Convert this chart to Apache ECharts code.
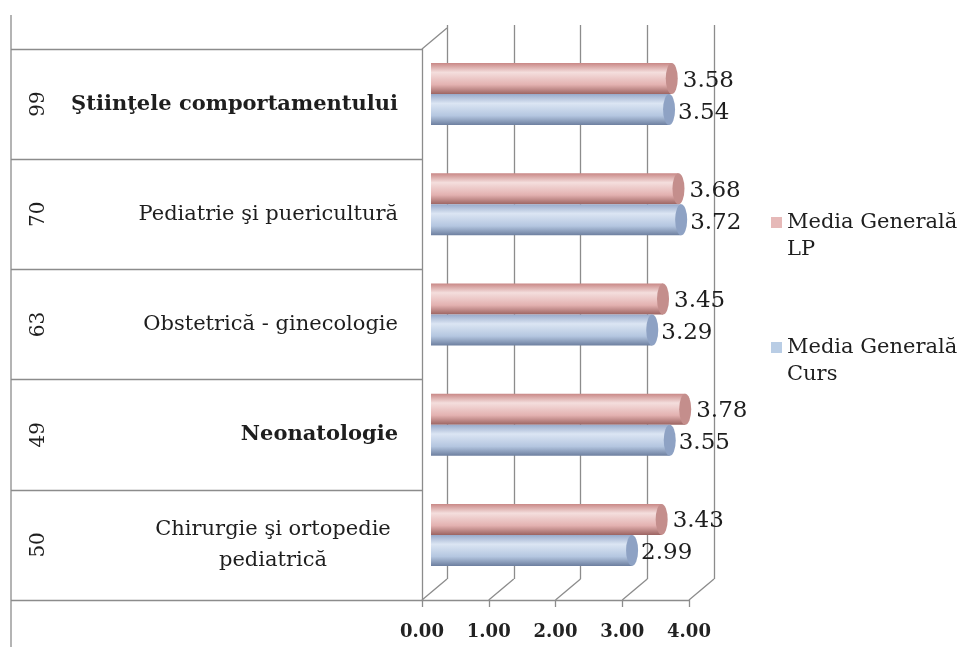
<!DOCTYPE html>
<html>
<head>
<meta charset="utf-8">
<script src="https://cdn.jsdelivr.net/npm/echarts@6/dist/echarts.min.js"></script>
<style>html,body{margin:0;background:#fff}#chart{width:978px;height:647px}</style>
</head>
<body>
<div id="chart"></div>
<script>
// date
var categories = ['Ştiinţele comportamentului', 'Pediatrie şi puericultură', 'Obstetrică - ginecologie', 'Neonatologie', 'Chirurgie şi ortopedie\npediatrică'];
var respondents = ['99', '70', '63', '49', '50'];
var boldRows = [true, false, false, true, false];
var mediaLP = [3.58, 3.68, 3.45, 3.78, 3.43];
var mediaCurs = [3.54, 3.72, 3.29, 3.55, 2.99];
var xMin = 0, xMax = 4, xStep = 1;

var serif = 'DejaVu Serif';
var lineCol = '#8c8c8c';

// pozitii grid (fata / spate, efect 3D)
var frontLeft = 422, frontRight = 689, frontTop = 49, frontBottom = 600;
var dx = 25, dy = -21;

var chart = echarts.init(document.getElementById('chart'));

function catLabel(v, i) {
  if (boldRows[i]) return '{b|' + v + '}';
  if (v.indexOf('\n') >= 0) {
    return v.split('\n').map(function (s) { return '{c|' + s + '}'; }).join('\n');
  }
  return '{n|' + v + '}';
}

// linii decorative pentru cutia 3D
var deco = [
  { type: 'line', shape: { x1: 11, y1: 15, x2: 11, y2: 647 }, style: { stroke: lineCol, lineWidth: 1.3 } },
  { type: 'line', shape: { x1: frontLeft, y1: frontTop, x2: frontLeft + dx, y2: frontTop + dy }, style: { stroke: lineCol, lineWidth: 1.3 } }
];
var step = (frontRight - frontLeft) / ((xMax - xMin) / xStep);
for (var k = 0; k <= (xMax - xMin) / xStep; k++) {
  deco.push({ type: 'line', shape: { x1: frontLeft + k * step, y1: frontBottom, x2: frontLeft + k * step + dx, y2: frontBottom + dy },
    style: { stroke: lineCol, lineWidth: 1.3 } });
}

var option = {
  backgroundColor: '#fff',
  animation: false,
  grid: [
    { left: frontLeft + dx, right: 978 - frontRight - dx, top: frontTop + dy - 3, bottom: 647 - frontBottom - dy, outerBoundsMode: 'none' },
    { left: frontLeft, right: 978 - frontRight, top: frontTop, bottom: 647 - frontBottom, outerBoundsMode: 'none' },
    { left: frontLeft + 9, right: 978 - frontRight - 11, top: frontTop - 10, bottom: 647 - frontBottom + 10, outerBoundsMode: 'none' }
  ],
  xAxis: [
    { gridIndex: 0, type: 'value', min: xMin, max: xMax, interval: xStep,
      axisLine: { show: false }, axisTick: { show: false }, axisLabel: { show: false },
      splitLine: { show: true, lineStyle: { color: lineCol, width: 1.3 } } },
    { gridIndex: 1, type: 'value', min: xMin, max: xMax, interval: xStep,
      axisLine: { show: true, onZero: false, lineStyle: { color: lineCol, width: 1.3 } },
      axisTick: { show: true, length: 7, lineStyle: { color: lineCol, width: 1.3 } },
      splitLine: { show: false },
      axisLabel: { margin: 23, color: '#222', fontFamily: serif, fontWeight: 'bold', fontSize: 18,
        formatter: function (v) { return v.toFixed(2); } } },
    { gridIndex: 2, type: 'value', min: xMin, max: xMax, show: false, splitLine: { show: false } }
  ],
  yAxis: [
    { gridIndex: 0, type: 'category', data: categories, inverse: true, show: false },
    { gridIndex: 1, type: 'category', data: categories, inverse: true,
      axisLine: { show: true, lineStyle: { color: lineCol, width: 1.3 } },
      axisTick: { show: true, length: frontLeft - 11, lineStyle: { color: lineCol, width: 1.3 } },
      axisLabel: { margin: 24, formatter: catLabel,
        rich: {
          n: { fontFamily: serif, fontSize: 21, color: '#1e1e1e' },
          b: { fontFamily: serif, fontSize: 21, color: '#1e1e1e', fontWeight: 'bold' },
          c: { fontFamily: serif, fontSize: 21, color: '#1e1e1e', width: 250, align: 'center', lineHeight: 31 }
        } } },
    { gridIndex: 1, type: 'category', data: respondents, inverse: true, position: 'left', offset: 365,
      axisLine: { show: false }, axisTick: { show: false },
      axisLabel: { rotate: 90, margin: 8, fontFamily: serif, fontSize: 20, color: '#1e1e1e' } },
    { gridIndex: 2, type: 'category', data: categories, inverse: true, show: false }
  ],
  legend: {
    orient: 'vertical', left: 766, top: 177, itemGap: 44, itemWidth: 11, itemHeight: 11, icon: 'rect',
    textStyle: { fontFamily: serif, fontSize: 21, color: '#1e1e1e', lineHeight: 27 },
    formatter: function (name) { return ' \n' + name.replace('Generală ', 'Generală\n'); },
    data: [
      { name: 'Media Generală LP', itemStyle: { color: '#e6b9b8' } },
      { name: 'Media Generală Curs', itemStyle: { color: '#b9cde5' } }
    ]
  },
  graphic: deco,
  series: [
    { name: 'Media Generală LP', type: 'bar', xAxisIndex: 2, yAxisIndex: 3, data: mediaLP,
      barWidth: 31, barGap: '0%',
      itemStyle: { color: new echarts.graphic.LinearGradient(0, 0, 0, 1, [
        { offset: 0, color: '#c98886' }, { offset: 0.3, color: '#f4dedd' },
        { offset: 0.7, color: '#e3b1b0' }, { offset: 1, color: '#9c6462' }]) },
      label: { show: true, position: 'right', distance: 11, offset: [0, 2], fontFamily: serif, fontSize: 23, color: '#1e1e1e',
        formatter: function (p) { return p.value.toFixed(2); } } },
    { name: 'Media Generală Curs', type: 'bar', xAxisIndex: 2, yAxisIndex: 3, data: mediaCurs,
      barWidth: 31, barGap: '0%',
      itemStyle: { color: new echarts.graphic.LinearGradient(0, 0, 0, 1, [
        { offset: 0, color: '#98aacb' }, { offset: 0.3, color: '#dbe5f3' },
        { offset: 0.7, color: '#b4c6e0' }, { offset: 1, color: '#6d7f9f' }]) },
      label: { show: true, position: 'right', distance: 9, offset: [0, 3], fontFamily: serif, fontSize: 23, color: '#1e1e1e',
        formatter: function (p) { return p.value.toFixed(2); } } },
    { name: 'capLP', type: 'pictorialBar', xAxisIndex: 2, yAxisIndex: 3, data: mediaLP,
      barWidth: 31, barGap: '0%', symbol: 'circle', symbolSize: [12, 31], symbolPosition: 'end',
      symbolOffset: ['50%', 0], z: 3, itemStyle: { color: '#c48e8c' } },
    { name: 'capCurs', type: 'pictorialBar', xAxisIndex: 2, yAxisIndex: 3, data: mediaCurs,
      barWidth: 31, barGap: '0%', symbol: 'circle', symbolSize: [12, 31], symbolPosition: 'end',
      symbolOffset: ['50%', 0], z: 3, itemStyle: { color: '#8ea2c4' } }
  ]
};

chart.setOption(option);
</script>
</body>
</html>
